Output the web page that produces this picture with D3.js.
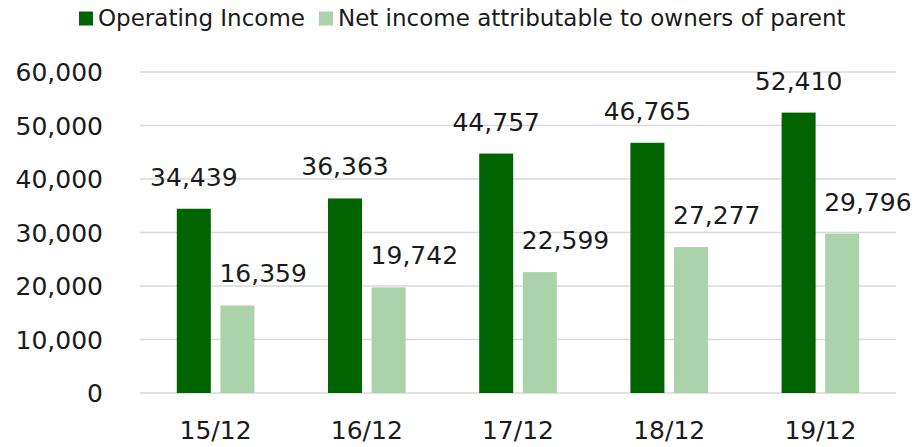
<!DOCTYPE html>
<html>
<head>
<meta charset="utf-8">
<script src="https://cdn.jsdelivr.net/npm/d3@7"></script>
<style>
  html, body { margin: 0; padding: 0; background: #fff; }
  svg text { font-family: "DejaVu Sans", Verdana, sans-serif; fill: #1a1a1a; }
</style>
</head>
<body>
<svg id="chart" width="916" height="447"></svg>
<script>
// ---- data ----
const categories = ['15/12', '16/12', '17/12', '18/12', '19/12'];
const seriesNames = ['Operating Income', 'Net income attributable to owners of parent'];
const operatingIncome = [34439, 36363, 44757, 46765, 52410];
const netIncome = [16359, 19742, 22599, 27277, 29796];
const yTicks = [0, 10000, 20000, 30000, 40000, 50000, 60000];
const colors = ['#006400', '#aad3aa'];

const svg = d3.select('#chart');
const fmt = d3.format(',');

const x = d3.scaleBand().domain(categories).range([140, 896]);
const y = d3.scaleLinear().domain([0, 60000]).range([393, 72]);
const groupW = 77.6;
const xs = d3.scaleBand().domain([0, 1]).range([0, groupW]).paddingInner(0.22);

// gridlines
svg.append('g')
  .selectAll('line')
  .data(yTicks)
  .join('line')
  .attr('x1', 140).attr('x2', 896)
  .attr('y1', d => y(d)).attr('y2', d => y(d))
  .attr('stroke', '#d9d9d9')
  .attr('stroke-width', 1.5);

// y axis labels
svg.append('g')
  .selectAll('text')
  .data(yTicks)
  .join('text')
  .attr('x', 103)
  .attr('y', d => y(d))
  .attr('dy', '0.36em')
  .attr('text-anchor', 'end')
  .style('font-size', '25px')
  .text(d => fmt(d));

// x axis labels
svg.append('g')
  .selectAll('text')
  .data(categories)
  .join('text')
  .attr('x', d => x(d) + x.bandwidth() / 2)
  .attr('y', 439)
  .attr('text-anchor', 'middle')
  .style('font-size', '25px')
  .text(d => d);

// bars
const rows = categories.map((c, i) => ({ cat: c, vals: [operatingIncome[i], netIncome[i]] }));
const groups = svg.append('g')
  .selectAll('g')
  .data(rows)
  .join('g')
  .attr('transform', d => `translate(${x(d.cat) + x.bandwidth() / 2 - groupW / 2},0)`);

groups.selectAll('rect')
  .data(d => d.vals.map((v, s) => ({ v, s })))
  .join('rect')
  .attr('x', d => xs(d.s))
  .attr('width', xs.bandwidth())
  .attr('y', d => y(d.v))
  .attr('height', d => y(0) - y(d.v))
  .attr('fill', d => colors[d.s]);

// value labels: dark series centred, light series start at the bar's left edge
groups.selectAll('text')
  .data(d => d.vals.map((v, s) => ({ v, s })))
  .join('text')
  .attr('x', d => d.s === 0 ? xs(d.s) + xs.bandwidth() / 2 : xs(d.s) - 1)
  .attr('y', d => y(d.v) - 23)
  .attr('text-anchor', d => d.s === 0 ? 'middle' : 'start')
  .style('font-size', '25px')
  .text(d => fmt(d.v));

// legend
const legend = svg.append('g');
let lx = 79;
seriesNames.forEach((name, i) => {
  legend.append('rect')
    .attr('x', lx).attr('y', 11.5)
    .attr('width', 14).attr('height', 14)
    .attr('fill', colors[i]);
  const t = legend.append('text')
    .attr('x', lx + 19)
    .attr('y', 26)
    .style('font-size', '23px')
    .text(name);
  lx += 19 + t.node().getComputedTextLength() + 14;
});
</script>
</body>
</html>
